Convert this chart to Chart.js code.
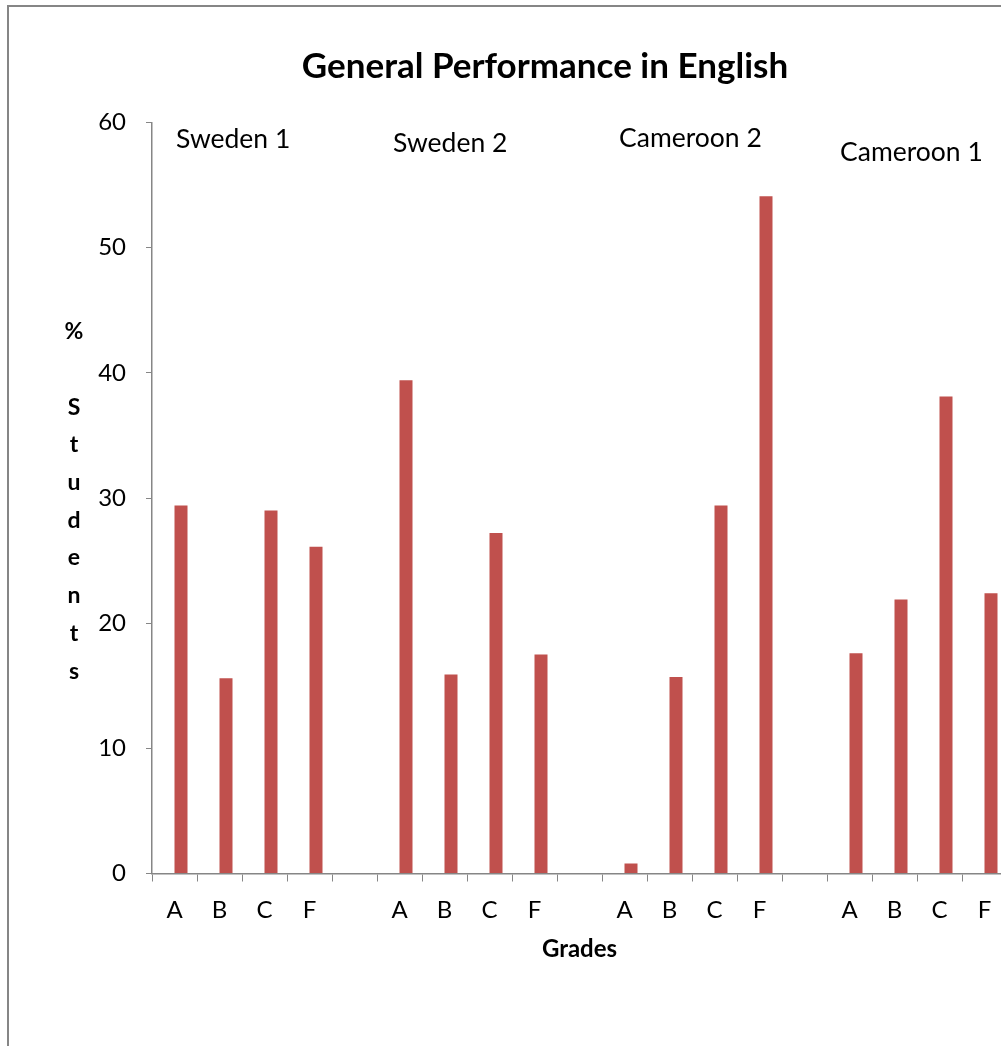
<!DOCTYPE html>
<html><head><meta charset="utf-8">
<script src="https://cdn.jsdelivr.net/npm/chart.js@4.4.0/dist/chart.umd.min.js"></script>
<style>
html,body{margin:0;padding:0;overflow:hidden;background:#fff;width:1001px;height:1046px}
canvas{display:block}
</style></head>
<body><canvas id="c" width="1010" height="1046"></canvas>
<script>
// ---- data ----
const categories = ['A','B','C','F','','A','B','C','F','','A','B','C','F','','A','B','C','F'];
const percentStudents = [29.4,15.6,29.0,26.1,null,39.4,15.9,27.2,17.5,null,0.8,15.7,29.4,54.1,null,17.6,21.9,38.1,22.4];
const emptySeries = [null,null,null,null,null,null,null,null,null,null,null,null,null,null,null,null,null,null,null];
const groupNames = ['Sweden 1','Sweden 2','Cameroon 2','Cameroon 1'];
const yTicks = [0,10,20,30,40,50,60];
const chartTitle = 'General Performance in English';
const xTitle = 'Grades';
const yTitle = '% Students';

const FONT = 'Lato, "Open Sans", sans-serif';
Chart.defaults.font.family = FONT;
Chart.defaults.color = '#000';

const borderPlugin = {
  id: 'frame',
  beforeDraw(chart) {
    const ctx = chart.ctx;
    ctx.save();
    ctx.strokeStyle = '#868686';
    ctx.lineWidth = 2;
    ctx.strokeRect(8, 6, 3000, 3000);
    ctx.restore();
  }
};

const groupLabelPlugin = {
  id: 'groupLabels',
  afterDatasetsDraw(chart, args, opts) {
    const {ctx, scales: {x, y}} = chart;
    ctx.save();
    ctx.font = opts.font;
    ctx.fillStyle = '#000';
    ctx.textAlign = 'left';
    ctx.textBaseline = 'middle';
    groupNames.forEach((name, i) => {
      const a = opts.anchors[i];
      ctx.fillText(name, x.getPixelForValue(a[0]), y.getPixelForValue(a[1]));
    });
    ctx.restore();
  }
};

const stackedYTitlePlugin = {
  id: 'stackedYTitle',
  afterDraw(chart, args, opts) {
    const {ctx, chartArea} = chart;
    ctx.save();
    ctx.font = opts.font;
    ctx.fillStyle = '#000';
    ctx.textAlign = 'center';
    ctx.textBaseline = 'middle';
    const chars = yTitle.split('');
    const mid = (chartArea.top + chartArea.bottom) / 2 + opts.shift;
    const start = mid - (chars.length - 1) * opts.step / 2;
    chars.forEach((ch, i) => {
      ctx.fillText(ch, chartArea.left - opts.dx, start + i * opts.step);
    });
    ctx.restore();
  }
};

new Chart(document.getElementById('c'), {
  type: 'bar',
  data: {
    labels: categories,
    datasets: [
      { label: 'Series1', data: emptySeries, backgroundColor: '#4F81BD' },
      { label: 'Series2', data: percentStudents, backgroundColor: '#C0504D', borderWidth: 0 }
    ]
  },
  options: {
    responsive: false,
    animation: false,
    devicePixelRatio: 1,
    events: [],
    categoryPercentage: 26 / 45,
    barPercentage: 1,
    layout: { padding: { left: 83, right: 3, top: 0, bottom: 0 } },
    plugins: {
      legend: { display: false },
      tooltip: { enabled: false },
      title: {
        display: true,
        text: chartTitle,
        color: '#000',
        font: { size: 35, weight: 'bold', family: FONT },
        padding: { top: 46, bottom: 34.5 }
      },
      groupLabels: {
        font: '26.5px ' + FONT,
        anchors: [[0.033, 58.68], [4.856, 58.36], [9.878, 58.76], [14.789, 57.64]]
      },
      stackedYTitle: { font: 'bold 23px ' + FONT, step: 37.7, dx: 78, shift: 3.5 }
    },
    scales: {
      x: {
        grid: { display: true, drawOnChartArea: false, drawTicks: true, tickLength: 8, color: '#868686', offset: true },
        border: { display: true, color: '#868686', width: 1.5 },
        ticks: { font: { size: 24 }, color: '#000', padding: 14, maxRotation: 0, autoSkip: false },
        title: { display: true, text: xTitle, color: '#000', font: { size: 24, weight: 'bold' }, padding: { top: 0, bottom: 82.6 } },
        afterFit(s) { s.height = 172.5; }
      },
      y: {
        min: 0, max: 60,
        afterBuildTicks(s) { s.ticks = yTicks.map(v => ({ value: v })); },
        grid: { display: true, drawOnChartArea: false, drawTicks: true, tickLength: 6, color: '#868686' },
        border: { display: true, color: '#868686', width: 1.5 },
        ticks: { font: { size: 24 }, color: '#000', padding: 20 },
        afterFit(s) { s.width = 69; }
      }
    }
  },
  plugins: [borderPlugin, groupLabelPlugin, stackedYTitlePlugin]
});
</script>
</body></html>
